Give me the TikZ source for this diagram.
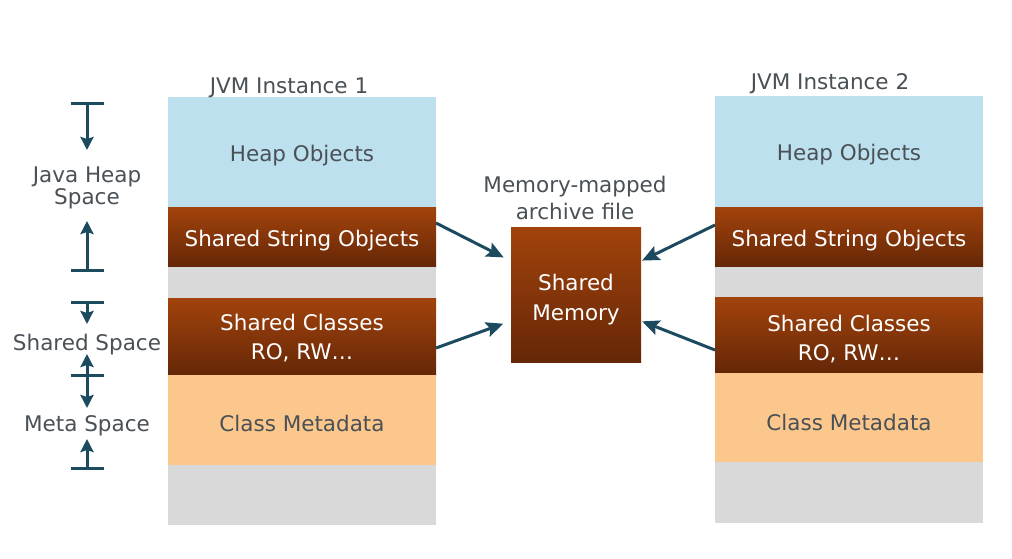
\documentclass[tikz,border=0pt]{standalone}
\usepackage{fontspec}
\setmainfont{DejaVu Sans}
\usetikzlibrary{arrows.meta}
\definecolor{heapblue}{HTML}{BDE0EE}
\definecolor{browntop}{HTML}{A2430C}
\definecolor{brownbot}{HTML}{652707}
\definecolor{metaorange}{HTML}{FCC78C}
\definecolor{gapgray}{HTML}{D9D9D9}
\definecolor{txtgray}{HTML}{4A5156}
\definecolor{teal}{HTML}{1C4A5E}
\tikzset{
  blk/.style={rectangle, inner sep=0pt, outer sep=0pt, minimum width=268pt, align=center, text height=16pt, text depth=0pt, font=\fontsize{21.5}{24}\selectfont},
  plainblk/.style={blk, text=txtgray},
  brownblk/.style={blk, top color=browntop, bottom color=brownbot, text=white},
  lbl/.style={text=txtgray, align=center, inner sep=0pt, text height=16pt, text depth=0pt},
  conn/.style={draw=teal, line width=3pt, -{Stealth[length=17pt,width=15pt,inset=3pt]}},
  barline/.style={draw=teal, line width=3pt},
  markarrow/.style={draw=teal, line width=3pt, -{Stealth[length=13pt,width=13pt,inset=2pt]}},
}
\begin{document}
\begin{tikzpicture}[x=1pt,y=-1pt]
\useasboundingbox[fill=white] (0,0) rectangle (1012,558);
\fontsize{21.5}{24}\selectfont
% left column
\node[plainblk, fill=heapblue, minimum height=110pt, text height=18pt] (heap1) at (302,152) {Heap Objects};
\node[brownblk, minimum height=60pt, text height=18pt] (str1) at (302,237) {Shared String Objects};
\node[blk, fill=gapgray, minimum height=31pt] (gap1) at (302,282.5) {};
\node[brownblk, minimum height=77pt, text height=45pt, font=\fontsize{21.5}{29}\selectfont] (cls1) at (302,336.5) {Shared Classes\\RO, RW…};
\node[plainblk, fill=metaorange, minimum height=90pt, text height=22pt] (meta1) at (302,420) {Class Metadata};
\node[blk, fill=gapgray, minimum height=60pt] (bot1) at (302,495) {};
\node[lbl] (t1) at (289,85) {JVM Instance 1};
% right column
\node[plainblk, fill=heapblue, minimum height=111pt, text height=17pt] (heap2) at (849,151.5) {Heap Objects};
\node[brownblk, minimum height=60pt, text height=18pt] (str2) at (849,237) {Shared String Objects};
\node[blk, fill=gapgray, minimum height=30pt] (gap2) at (849,282) {};
\node[brownblk, minimum height=76pt, text height=50pt, font=\fontsize{21.5}{29}\selectfont] (cls2) at (849,335) {Shared Classes\\RO, RW…};
\node[plainblk, fill=metaorange, minimum height=89pt, text height=25pt] (meta2) at (849,417.5) {Class Metadata};
\node[blk, fill=gapgray, minimum height=61pt] (bot2) at (849,492.5) {};
\node[lbl] (t2) at (830,81) {JVM Instance 2};
% shared memory
\node[rectangle, inner sep=0pt, minimum width=130pt, minimum height=135pt, top color=browntop, bottom color=brownbot, text=white, align=center, text height=51pt, text depth=0pt, font=\fontsize{21.5}{30}\selectfont] (shm) at (576,294.5) {Shared\\Memory};
\node[lbl, text height=43pt, font=\fontsize{21.5}{27}\selectfont] (mm) at (575,197.5) {Memory-mapped\\archive file};
% connectors
\draw[conn, shorten >=8pt] (str1.east |- 0,223) -- (shm.west |- 0,261);
\draw[conn, shorten >=8pt] (cls1.east |- 0,348) -- (shm.west |- 0,321);
\draw[conn, shorten >=1pt] (str2.west |- 0,225) -- (shm.east |- 0,261);
\draw[conn, shorten >=1pt] (cls2.west |- 0,350) -- (shm.east |- 0,321);
% left markers
\coordinate (a1) at (87,103); \coordinate (a2) at (87,150);
\coordinate (a3) at (87,270); \coordinate (a4) at (87,221);
\coordinate (b1) at (87,302); \coordinate (b2) at (87,324);
\coordinate (b3) at (87,375); \coordinate (b4) at (87,354);
\coordinate (b5) at (87,408);
\coordinate (c1) at (87,468); \coordinate (c2) at (87,439);
\draw[barline] ([xshift=-16.5pt]a1) -- ([xshift=16.5pt]a1);
\draw[barline] ([xshift=-16.5pt]a3) -- ([xshift=16.5pt]a3);
\draw[barline] ([xshift=-16.5pt]b1) -- ([xshift=16.5pt]b1);
\draw[barline] ([xshift=-16.5pt]b3) -- ([xshift=16.5pt]b3);
\draw[barline] ([xshift=-16.5pt]c1) -- ([xshift=16.5pt]c1);
\draw[markarrow] (a1) -- (a2);
\draw[markarrow] (a3) -- (a4);
\draw[markarrow] (b1) -- (b2);
\draw[markarrow] (b3) -- (b4);
\draw[markarrow] (b3) -- (b5);
\draw[markarrow] (c1) -- (c2);
\node[lbl, text height=33pt, font=\fontsize{21.5}{19}\selectfont] (jhs) at (87,187.5) {Java Heap\\Space};
\node[lbl] (ss) at (87,342) {Shared Space};
\node[lbl] (ms) at (87,423.5) {Meta Space};
\end{tikzpicture}
\end{document}
